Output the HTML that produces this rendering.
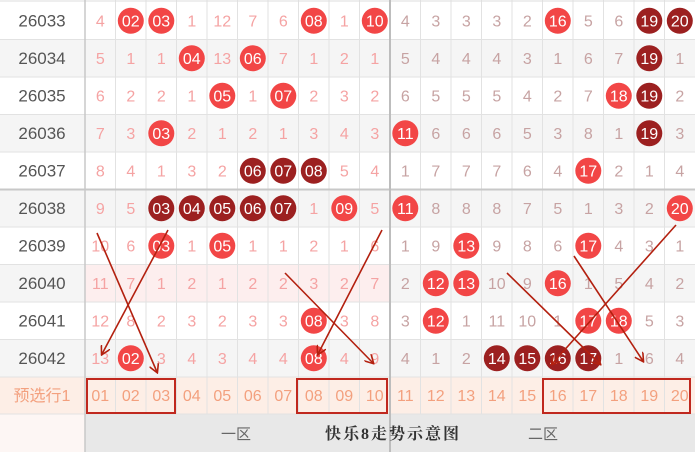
<!DOCTYPE html>
<html><head><meta charset="utf-8"><style>
html,body{margin:0;padding:0;background:#fff;width:695px;height:452px;overflow:hidden}
svg{display:block}
text{font-family:"Liberation Sans","Noto Sans CJK SC",sans-serif;font-size:16px;text-anchor:middle}
.l{fill:#555;font-size:17px}
.a{fill:#f5a3a3}
.b{fill:#c7a3a3}
.w{fill:#fff;font-size:16px}
.p{fill:#f3a07e;font-size:16px}
.r{fill:#f24646}
.d{fill:#9c2020}
</style></head><body>
<svg width="695" height="452" viewBox="0 0 695 452" xmlns="http://www.w3.org/2000/svg">
<defs><marker id="ah" markerWidth="10" markerHeight="10" refX="8" refY="5" orient="auto" markerUnits="userSpaceOnUse"><path d="M0,0 L9,5 L0,10" fill="none" stroke="#b3200f" stroke-width="1.6"/></marker></defs>
<!-- row backgrounds -->
<rect x="0" y="39.5" width="695" height="37.5" fill="#f5f5f5"/>
<rect x="0" y="114.5" width="695" height="37.5" fill="#f5f5f5"/>
<rect x="0" y="189.5" width="695" height="37.5" fill="#f5f5f5"/>
<rect x="0" y="264.5" width="695" height="37.5" fill="#f5f5f5"/>
<rect x="85" y="264.5" width="305" height="37.5" fill="#fdeeee"/>
<rect x="0" y="339.5" width="695" height="37.5" fill="#f5f5f5"/>
<rect x="0" y="377" width="695" height="37" fill="#fdeee6"/>
<rect x="0" y="414" width="85" height="38" fill="#fdf6f4"/>
<rect x="85" y="414" width="610" height="38" fill="#e8e8e8"/>
<!-- grid -->
<g stroke="#e2e2e2" stroke-width="1">
<line x1="115.5" y1="0" x2="115.5" y2="414"/><line x1="146" y1="0" x2="146" y2="414"/><line x1="176.5" y1="0" x2="176.5" y2="414"/><line x1="207" y1="0" x2="207" y2="414"/><line x1="237.5" y1="0" x2="237.5" y2="414"/><line x1="268" y1="0" x2="268" y2="414"/><line x1="298.5" y1="0" x2="298.5" y2="414"/><line x1="329" y1="0" x2="329" y2="414"/><line x1="359.5" y1="0" x2="359.5" y2="414"/>
<line x1="420.5" y1="0" x2="420.5" y2="414"/><line x1="451" y1="0" x2="451" y2="414"/><line x1="481.5" y1="0" x2="481.5" y2="414"/><line x1="512" y1="0" x2="512" y2="414"/><line x1="542.5" y1="0" x2="542.5" y2="414"/><line x1="573" y1="0" x2="573" y2="414"/><line x1="603.5" y1="0" x2="603.5" y2="414"/><line x1="634" y1="0" x2="634" y2="414"/><line x1="664.5" y1="0" x2="664.5" y2="414"/>
<line x1="0" y1="39.5" x2="695" y2="39.5"/><line x1="0" y1="77" x2="695" y2="77"/><line x1="0" y1="114.5" x2="695" y2="114.5"/><line x1="0" y1="152" x2="695" y2="152"/><line x1="0" y1="227" x2="695" y2="227"/><line x1="0" y1="264.5" x2="695" y2="264.5"/><line x1="0" y1="302" x2="695" y2="302"/><line x1="0" y1="339.5" x2="695" y2="339.5"/><line x1="0" y1="377" x2="695" y2="377"/><line x1="0" y1="414" x2="695" y2="414"/>
</g>
<line x1="0" y1="1" x2="695" y2="1" stroke="#ddd"/>
<line x1="0" y1="189.5" x2="695" y2="189.5" stroke="#c8c8c8" stroke-width="2"/>
<line x1="85" y1="0" x2="85" y2="452" stroke="#c8c8c8" stroke-width="1.5"/>
<line x1="390" y1="0" x2="390" y2="452" stroke="#bdbdbd" stroke-width="2"/>
<!-- labels -->
<text class="l" x="42" y="26.5">26033</text><text class="l" x="42" y="64">26034</text><text class="l" x="42" y="101.5">26035</text><text class="l" x="42" y="139">26036</text><text class="l" x="42" y="176.5">26037</text><text class="l" x="42" y="214">26038</text><text class="l" x="42" y="251.5">26039</text><text class="l" x="42" y="289">26040</text><text class="l" x="42" y="326.5">26041</text><text class="l" x="42" y="364">26042</text>
<text class="p" x="42" y="401">预选行1</text>
<!-- balls -->
<circle class="r" cx="130.8" cy="20.8" r="13"/><circle class="r" cx="161.3" cy="20.8" r="13"/><circle class="r" cx="313.8" cy="20.8" r="13"/><circle class="r" cx="374.8" cy="20.8" r="13"/><circle class="r" cx="557.8" cy="20.8" r="13"/><circle class="d" cx="649.3" cy="20.8" r="13"/><circle class="d" cx="679.8" cy="20.8" r="13"/>
<circle class="r" cx="191.8" cy="58.3" r="13"/><circle class="r" cx="252.8" cy="58.3" r="13"/><circle class="d" cx="649.3" cy="58.3" r="13"/>
<circle class="r" cx="222.3" cy="95.8" r="13"/><circle class="r" cx="283.3" cy="95.8" r="13"/><circle class="r" cx="618.8" cy="95.8" r="13"/><circle class="d" cx="649.3" cy="95.8" r="13"/>
<circle class="r" cx="161.3" cy="133.3" r="13"/><circle class="r" cx="405.3" cy="133.3" r="13"/><circle class="d" cx="649.3" cy="133.3" r="13"/>
<circle class="d" cx="252.8" cy="170.8" r="13"/><circle class="d" cx="283.3" cy="170.8" r="13"/><circle class="d" cx="313.8" cy="170.8" r="13"/><circle class="r" cx="588.3" cy="170.8" r="13"/>
<circle class="d" cx="161.3" cy="208.3" r="13"/><circle class="d" cx="191.8" cy="208.3" r="13"/><circle class="d" cx="222.3" cy="208.3" r="13"/><circle class="d" cx="252.8" cy="208.3" r="13"/><circle class="d" cx="283.3" cy="208.3" r="13"/><circle class="r" cx="344.3" cy="208.3" r="13"/><circle class="r" cx="405.3" cy="208.3" r="13"/><circle class="r" cx="679.8" cy="208.3" r="13"/>
<circle class="r" cx="161.3" cy="245.8" r="13"/><circle class="r" cx="222.3" cy="245.8" r="13"/><circle class="r" cx="466.3" cy="245.8" r="13"/><circle class="r" cx="588.3" cy="245.8" r="13"/>
<circle class="r" cx="435.8" cy="283.3" r="13"/><circle class="r" cx="466.3" cy="283.3" r="13"/><circle class="r" cx="557.8" cy="283.3" r="13"/>
<circle class="r" cx="313.8" cy="320.8" r="13"/><circle class="r" cx="435.8" cy="320.8" r="13"/><circle class="r" cx="588.3" cy="320.8" r="13"/><circle class="r" cx="618.8" cy="320.8" r="13"/>
<circle class="r" cx="130.8" cy="358.3" r="13"/><circle class="r" cx="313.8" cy="358.3" r="13"/><circle class="d" cx="496.8" cy="358.3" r="13"/><circle class="d" cx="527.3" cy="358.3" r="13"/><circle class="d" cx="557.8" cy="358.3" r="13"/><circle class="d" cx="588.3" cy="358.3" r="13"/>
<!-- row 26033 -->
<text class="a" x="100.3" y="26.5">4</text><text class="w" x="130.8" y="26.5">02</text><text class="w" x="161.3" y="26.5">03</text><text class="a" x="191.8" y="26.5">1</text><text class="a" x="222.3" y="26.5">12</text><text class="a" x="252.8" y="26.5">7</text><text class="a" x="283.3" y="26.5">6</text><text class="w" x="313.8" y="26.5">08</text><text class="a" x="344.3" y="26.5">1</text><text class="w" x="374.8" y="26.5">10</text>
<text class="b" x="405.3" y="26.5">4</text><text class="b" x="435.8" y="26.5">3</text><text class="b" x="466.3" y="26.5">3</text><text class="b" x="496.8" y="26.5">3</text><text class="b" x="527.3" y="26.5">2</text><text class="w" x="557.8" y="26.5">16</text><text class="b" x="588.3" y="26.5">5</text><text class="b" x="618.8" y="26.5">6</text><text class="w" x="649.3" y="26.5">19</text><text class="w" x="679.8" y="26.5">20</text>
<!-- 26034 -->
<text class="a" x="100.3" y="64">5</text><text class="a" x="130.8" y="64">1</text><text class="a" x="161.3" y="64">1</text><text class="w" x="191.8" y="64">04</text><text class="a" x="222.3" y="64">13</text><text class="w" x="252.8" y="64">06</text><text class="a" x="283.3" y="64">7</text><text class="a" x="313.8" y="64">1</text><text class="a" x="344.3" y="64">2</text><text class="a" x="374.8" y="64">1</text>
<text class="b" x="405.3" y="64">5</text><text class="b" x="435.8" y="64">4</text><text class="b" x="466.3" y="64">4</text><text class="b" x="496.8" y="64">4</text><text class="b" x="527.3" y="64">3</text><text class="b" x="557.8" y="64">1</text><text class="b" x="588.3" y="64">6</text><text class="b" x="618.8" y="64">7</text><text class="w" x="649.3" y="64">19</text><text class="b" x="679.8" y="64">1</text>
<!-- 26035 -->
<text class="a" x="100.3" y="101.5">6</text><text class="a" x="130.8" y="101.5">2</text><text class="a" x="161.3" y="101.5">2</text><text class="a" x="191.8" y="101.5">1</text><text class="w" x="222.3" y="101.5">05</text><text class="a" x="252.8" y="101.5">1</text><text class="w" x="283.3" y="101.5">07</text><text class="a" x="313.8" y="101.5">2</text><text class="a" x="344.3" y="101.5">3</text><text class="a" x="374.8" y="101.5">2</text>
<text class="b" x="405.3" y="101.5">6</text><text class="b" x="435.8" y="101.5">5</text><text class="b" x="466.3" y="101.5">5</text><text class="b" x="496.8" y="101.5">5</text><text class="b" x="527.3" y="101.5">4</text><text class="b" x="557.8" y="101.5">2</text><text class="b" x="588.3" y="101.5">7</text><text class="w" x="618.8" y="101.5">18</text><text class="w" x="649.3" y="101.5">19</text><text class="b" x="679.8" y="101.5">2</text>
<!-- 26036 -->
<text class="a" x="100.3" y="139">7</text><text class="a" x="130.8" y="139">3</text><text class="w" x="161.3" y="139">03</text><text class="a" x="191.8" y="139">2</text><text class="a" x="222.3" y="139">1</text><text class="a" x="252.8" y="139">2</text><text class="a" x="283.3" y="139">1</text><text class="a" x="313.8" y="139">3</text><text class="a" x="344.3" y="139">4</text><text class="a" x="374.8" y="139">3</text>
<text class="w" x="405.3" y="139">11</text><text class="b" x="435.8" y="139">6</text><text class="b" x="466.3" y="139">6</text><text class="b" x="496.8" y="139">6</text><text class="b" x="527.3" y="139">5</text><text class="b" x="557.8" y="139">3</text><text class="b" x="588.3" y="139">8</text><text class="b" x="618.8" y="139">1</text><text class="w" x="649.3" y="139">19</text><text class="b" x="679.8" y="139">3</text>
<!-- 26037 -->
<text class="a" x="100.3" y="176.5">8</text><text class="a" x="130.8" y="176.5">4</text><text class="a" x="161.3" y="176.5">1</text><text class="a" x="191.8" y="176.5">3</text><text class="a" x="222.3" y="176.5">2</text><text class="w" x="252.8" y="176.5">06</text><text class="w" x="283.3" y="176.5">07</text><text class="w" x="313.8" y="176.5">08</text><text class="a" x="344.3" y="176.5">5</text><text class="a" x="374.8" y="176.5">4</text>
<text class="b" x="405.3" y="176.5">1</text><text class="b" x="435.8" y="176.5">7</text><text class="b" x="466.3" y="176.5">7</text><text class="b" x="496.8" y="176.5">7</text><text class="b" x="527.3" y="176.5">6</text><text class="b" x="557.8" y="176.5">4</text><text class="w" x="588.3" y="176.5">17</text><text class="b" x="618.8" y="176.5">2</text><text class="b" x="649.3" y="176.5">1</text><text class="b" x="679.8" y="176.5">4</text>
<!-- 26038 -->
<text class="a" x="100.3" y="214">9</text><text class="a" x="130.8" y="214">5</text><text class="w" x="161.3" y="214">03</text><text class="w" x="191.8" y="214">04</text><text class="w" x="222.3" y="214">05</text><text class="w" x="252.8" y="214">06</text><text class="w" x="283.3" y="214">07</text><text class="a" x="313.8" y="214">1</text><text class="w" x="344.3" y="214">09</text><text class="a" x="374.8" y="214">5</text>
<text class="w" x="405.3" y="214">11</text><text class="b" x="435.8" y="214">8</text><text class="b" x="466.3" y="214">8</text><text class="b" x="496.8" y="214">8</text><text class="b" x="527.3" y="214">7</text><text class="b" x="557.8" y="214">5</text><text class="b" x="588.3" y="214">1</text><text class="b" x="618.8" y="214">3</text><text class="b" x="649.3" y="214">2</text><text class="w" x="679.8" y="214">20</text>
<!-- 26039 -->
<text class="a" x="100.3" y="251.5">10</text><text class="a" x="130.8" y="251.5">6</text><text class="w" x="161.3" y="251.5">03</text><text class="a" x="191.8" y="251.5">1</text><text class="w" x="222.3" y="251.5">05</text><text class="a" x="252.8" y="251.5">1</text><text class="a" x="283.3" y="251.5">1</text><text class="a" x="313.8" y="251.5">2</text><text class="a" x="344.3" y="251.5">1</text><text class="a" x="374.8" y="251.5">6</text>
<text class="b" x="405.3" y="251.5">1</text><text class="b" x="435.8" y="251.5">9</text><text class="w" x="466.3" y="251.5">13</text><text class="b" x="496.8" y="251.5">9</text><text class="b" x="527.3" y="251.5">8</text><text class="b" x="557.8" y="251.5">6</text><text class="w" x="588.3" y="251.5">17</text><text class="b" x="618.8" y="251.5">4</text><text class="b" x="649.3" y="251.5">3</text><text class="b" x="679.8" y="251.5">1</text>
<!-- 26040 -->
<text class="a" x="100.3" y="289">11</text><text class="a" x="130.8" y="289">7</text><text class="a" x="161.3" y="289">1</text><text class="a" x="191.8" y="289">2</text><text class="a" x="222.3" y="289">1</text><text class="a" x="252.8" y="289">2</text><text class="a" x="283.3" y="289">2</text><text class="a" x="313.8" y="289">3</text><text class="a" x="344.3" y="289">2</text><text class="a" x="374.8" y="289">7</text>
<text class="b" x="405.3" y="289">2</text><text class="w" x="435.8" y="289">12</text><text class="w" x="466.3" y="289">13</text><text class="b" x="496.8" y="289">10</text><text class="b" x="527.3" y="289">9</text><text class="w" x="557.8" y="289">16</text><text class="b" x="588.3" y="289">1</text><text class="b" x="618.8" y="289">5</text><text class="b" x="649.3" y="289">4</text><text class="b" x="679.8" y="289">2</text>
<!-- 26041 -->
<text class="a" x="100.3" y="326.5">12</text><text class="a" x="130.8" y="326.5">8</text><text class="a" x="161.3" y="326.5">2</text><text class="a" x="191.8" y="326.5">3</text><text class="a" x="222.3" y="326.5">2</text><text class="a" x="252.8" y="326.5">3</text><text class="a" x="283.3" y="326.5">3</text><text class="w" x="313.8" y="326.5">08</text><text class="a" x="344.3" y="326.5">3</text><text class="a" x="374.8" y="326.5">8</text>
<text class="b" x="405.3" y="326.5">3</text><text class="w" x="435.8" y="326.5">12</text><text class="b" x="466.3" y="326.5">1</text><text class="b" x="496.8" y="326.5">11</text><text class="b" x="527.3" y="326.5">10</text><text class="b" x="557.8" y="326.5">1</text><text class="w" x="588.3" y="326.5">17</text><text class="w" x="618.8" y="326.5">18</text><text class="b" x="649.3" y="326.5">5</text><text class="b" x="679.8" y="326.5">3</text>
<!-- 26042 -->
<text class="a" x="100.3" y="364">13</text><text class="w" x="130.8" y="364">02</text><text class="a" x="161.3" y="364">3</text><text class="a" x="191.8" y="364">4</text><text class="a" x="222.3" y="364">3</text><text class="a" x="252.8" y="364">4</text><text class="a" x="283.3" y="364">4</text><text class="w" x="313.8" y="364">08</text><text class="a" x="344.3" y="364">4</text><text class="a" x="374.8" y="364">9</text>
<text class="b" x="405.3" y="364">4</text><text class="b" x="435.8" y="364">1</text><text class="b" x="466.3" y="364">2</text><text class="w" x="496.8" y="364">14</text><text class="w" x="527.3" y="364">15</text><text class="w" x="557.8" y="364">16</text><text class="w" x="588.3" y="364">17</text><text class="b" x="618.8" y="364">1</text><text class="b" x="649.3" y="364">6</text><text class="b" x="679.8" y="364">4</text>
<!-- preselect row -->
<text class="p" x="100.3" y="401">01</text><text class="p" x="130.8" y="401">02</text><text class="p" x="161.3" y="401">03</text><text class="p" x="191.8" y="401">04</text><text class="p" x="222.3" y="401">05</text><text class="p" x="252.8" y="401">06</text><text class="p" x="283.3" y="401">07</text><text class="p" x="313.8" y="401">08</text><text class="p" x="344.3" y="401">09</text><text class="p" x="374.8" y="401">10</text>
<text class="p" x="405.3" y="401">11</text><text class="p" x="435.8" y="401">12</text><text class="p" x="466.3" y="401">13</text><text class="p" x="496.8" y="401">14</text><text class="p" x="527.3" y="401">15</text><text class="p" x="557.8" y="401">16</text><text class="p" x="588.3" y="401">17</text><text class="p" x="618.8" y="401">18</text><text class="p" x="649.3" y="401">19</text><text class="p" x="679.8" y="401">20</text>
<g fill="none" stroke="#c0281e" stroke-width="2">
<rect x="87" y="379" width="88" height="34"/>
<rect x="297" y="379" width="90" height="34"/>
<rect x="543" y="379" width="147" height="34"/>
</g>
<!-- footer -->
<text x="236" y="439" style="fill:#666;font-size:15px">一区</text>
<text x="393" y="439" style="fill:#333;font-size:16px;font-weight:bold;letter-spacing:2px;font-family:'Liberation Serif','Noto Serif CJK SC',serif">快乐8走势示意图</text>
<text x="543" y="439" style="fill:#666;font-size:15px">二区</text>
<!-- arrows -->
<g stroke="#b3200f" stroke-width="1.6" fill="none" marker-end="url(#ah)">
<line x1="97" y1="233" x2="157" y2="372"/>
<line x1="168" y1="230" x2="102" y2="354"/>
<line x1="285" y1="273" x2="373" y2="363"/>
<line x1="382" y1="230" x2="318" y2="354"/>
<line x1="507" y1="273" x2="600" y2="364"/>
<line x1="676" y1="225" x2="552" y2="364"/>
<line x1="574" y1="256" x2="643" y2="361"/>
</g>
</svg>
</body></html>
